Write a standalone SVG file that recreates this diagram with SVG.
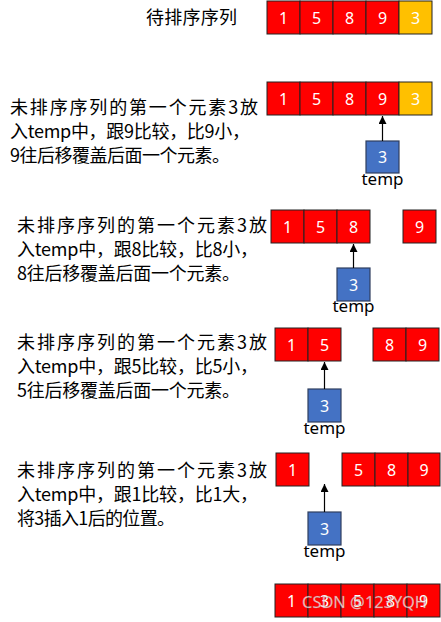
<svg xmlns="http://www.w3.org/2000/svg" width="441" height="622" viewBox="0 0 441 622">
<style>
.r{fill:#FF0000;stroke:#222;stroke-width:1}
.o{fill:#FFC000;stroke:#222;stroke-width:1}
.b{fill:#4472C4;stroke:#2F3F5F;stroke-width:1.2}
.n{font-family:"Noto Sans","Liberation Sans",sans-serif;font-size:16px;fill:#fff;text-anchor:middle}
.t{font-family:"Noto Sans","Liberation Sans",sans-serif;font-size:17px;fill:#000;text-anchor:middle}
.c{font-family:"Noto Sans CJK SC",sans-serif;font-size:18px;fill:#000}
.a{stroke:#000;stroke-width:1.2;fill:none}
.wm{font-family:"Noto Sans","Liberation Sans",sans-serif;font-size:16px;fill:#fff;fill-opacity:0.75;stroke:#888;stroke-width:0.4;stroke-opacity:0.6}
</style>
<defs>
<marker id="ah" viewBox="0 0 10 10" refX="10" refY="5" markerWidth="8" markerHeight="8" markerUnits="userSpaceOnUse" orient="auto">
<path d="M0,0 L10,5 L0,10 z" fill="#000"/>
</marker>
</defs>

<g id="title">
<text class="c" x="146" y="24" textLength="91" lengthAdjust="spacing">待排序序列</text>
</g>

<g id="row1">
<rect class="r" x="267" y="1" width="33" height="33"/><text class="n" x="283.5" y="23.5">1</text>
<rect class="r" x="300" y="1" width="33" height="33"/><text class="n" x="316.5" y="23.5">5</text>
<rect class="r" x="333" y="1" width="33" height="33"/><text class="n" x="349.5" y="23.5">8</text>
<rect class="r" x="366" y="1" width="33" height="33"/><text class="n" x="382.5" y="23.5">9</text>
<rect class="o" x="399" y="1" width="33" height="33"/><text class="n" x="415.5" y="23.5">3</text>
</g>

<g id="step1-text">
<text class="c" x="10" y="114" textLength="248" lengthAdjust="spacing">未排序序列的第一个元素3放</text>
<text class="c" x="10" y="138" textLength="240" lengthAdjust="spacing">入temp中，跟9比较，比9小，</text>
<text class="c" x="10" y="162" textLength="220" lengthAdjust="spacing">9往后移覆盖后面一个元素。</text>
</g>
<g id="step1-array">
<rect class="r" x="267" y="82" width="33" height="33"/><text class="n" x="283.5" y="104.5">1</text>
<rect class="r" x="300" y="82" width="33" height="33"/><text class="n" x="316.5" y="104.5">5</text>
<rect class="r" x="333" y="82" width="33" height="33"/><text class="n" x="349.5" y="104.5">8</text>
<rect class="r" x="366" y="82" width="33" height="33"/><text class="n" x="382.5" y="104.5">9</text>
<rect class="o" x="399" y="82" width="33" height="33"/><text class="n" x="415.5" y="104.5">3</text>
</g>
<g id="step1-temp">
<rect class="b" x="366" y="141" width="33" height="32"/><text class="n" x="382.5" y="163">3</text>
<text class="t" x="382.5" y="185">temp</text>
</g>

<g id="step2-text">
<text class="c" x="17" y="232" textLength="250" lengthAdjust="spacing">未排序序列的第一个元素3放</text>
<text class="c" x="17" y="256" textLength="241" lengthAdjust="spacing">入temp中，跟8比较，比8小，</text>
<text class="c" x="17" y="280" textLength="223" lengthAdjust="spacing">8往后移覆盖后面一个元素。</text>
</g>
<g id="step2-array">
<rect class="r" x="271" y="210" width="33" height="33"/><text class="n" x="287.5" y="232.5">1</text>
<rect class="r" x="304" y="210" width="33" height="33"/><text class="n" x="320.5" y="232.5">5</text>
<rect class="r" x="337" y="210" width="33" height="33"/><text class="n" x="353.5" y="232.5">8</text>
<rect class="r" x="403" y="210" width="33" height="33"/><text class="n" x="419.5" y="232.5">9</text>
</g>
<g id="step2-temp">
<rect class="b" x="337" y="268" width="33" height="33"/><text class="n" x="353.5" y="290.5">3</text>
<text class="t" x="353.5" y="312">temp</text>
</g>

<g id="step3-text">
<text class="c" x="17" y="349" textLength="250" lengthAdjust="spacing">未排序序列的第一个元素3放</text>
<text class="c" x="17" y="373" textLength="241" lengthAdjust="spacing">入temp中，跟5比较，比5小，</text>
<text class="c" x="17" y="397" textLength="223" lengthAdjust="spacing">5往后移覆盖后面一个元素。</text>
</g>
<g id="step3-array">
<rect class="r" x="275" y="328" width="33" height="33"/><text class="n" x="291.5" y="350.5">1</text>
<rect class="r" x="308" y="328" width="33" height="33"/><text class="n" x="324.5" y="350.5">5</text>
<rect class="r" x="373" y="328" width="33" height="33"/><text class="n" x="389.5" y="350.5">8</text>
<rect class="r" x="406" y="328" width="33" height="33"/><text class="n" x="422.5" y="350.5">9</text>
</g>
<g id="step3-temp">
<rect class="b" x="308" y="389" width="33" height="33"/><text class="n" x="324.5" y="411.5">3</text>
<text class="t" x="324.5" y="434">temp</text>
</g>

<g id="step4-text">
<text class="c" x="17" y="477" textLength="250" lengthAdjust="spacing">未排序序列的第一个元素3放</text>
<text class="c" x="17" y="501" textLength="241" lengthAdjust="spacing">入temp中，跟1比较，比1大，</text>
<text class="c" x="17" y="525" textLength="158" lengthAdjust="spacing">将3插入1后的位置。</text>
</g>
<g id="step4-array">
<rect class="r" x="276" y="453" width="33" height="33"/><text class="n" x="292.5" y="475.5">1</text>
<rect class="r" x="342" y="453" width="33" height="33"/><text class="n" x="358.5" y="475.5">5</text>
<rect class="r" x="375" y="453" width="33" height="33"/><text class="n" x="391.5" y="475.5">8</text>
<rect class="r" x="408" y="453" width="32" height="33"/><text class="n" x="424" y="475.5">9</text>
</g>
<g id="step4-temp">
<rect class="b" x="308" y="512" width="33" height="33"/><text class="n" x="324.5" y="534.5">3</text>
<text class="t" x="324.5" y="557">temp</text>
</g>

<g id="result">
<rect class="r" x="275" y="584" width="33" height="33"/><text class="n" x="291.5" y="606.5">1</text>
<rect class="r" x="308" y="584" width="33" height="33"/><text class="n" x="324.5" y="606.5">3</text>
<rect class="r" x="341" y="584" width="33" height="33"/><text class="n" x="357.5" y="606.5">5</text>
<rect class="r" x="374" y="584" width="33" height="33"/><text class="n" x="390.5" y="606.5">8</text>
<rect class="r" x="407" y="584" width="33" height="33"/><text class="n" x="423.5" y="606.5">9</text>
</g>

<g id="connectors">
<line class="a" x1="382.5" y1="141" x2="382.5" y2="116" marker-end="url(#ah)"/>
<line class="a" x1="353.5" y1="268" x2="353.5" y2="244" marker-end="url(#ah)"/>
<line class="a" x1="324.5" y1="389" x2="324.5" y2="362" marker-end="url(#ah)"/>
<line class="a" x1="324.5" y1="512" x2="324.5" y2="484" marker-end="url(#ah)"/>
</g>

<g id="watermark">
<text class="wm" x="302" y="608" textLength="125" lengthAdjust="spacingAndGlyphs">CSDN @123YQH</text>
</g>
</svg>
